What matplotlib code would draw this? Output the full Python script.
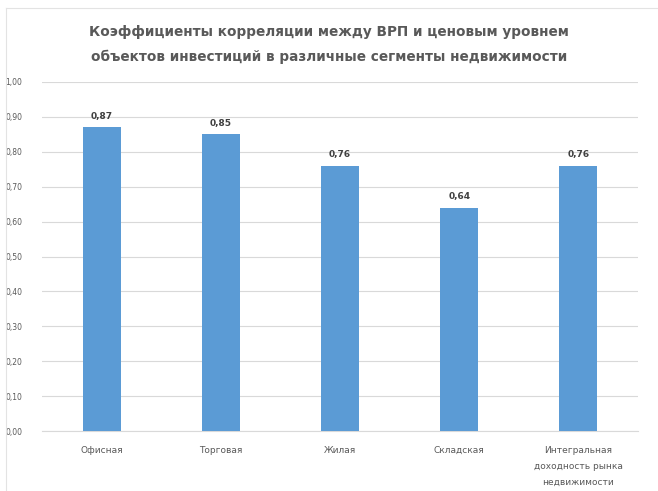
"""Correlation of GRP with price levels across real-estate segments."""

import matplotlib
matplotlib.use("Agg")
import matplotlib.pyplot as plt
from matplotlib.lines import Line2D

segments = [
    "Офисная",
    "Торговая",
    "Жилая",
    "Складская",
    "Интегральная\nдоходность рынка\nнедвижимости",
]
coefficients = [0.87, 0.85, 0.76, 0.64, 0.76]
y_ticks = [i / 10 for i in range(11)]

bar_colour = "#5B9BD5"
text_grey = "#595959"

fig = plt.figure(figsize=(6.58, 4.91), dpi=100)

# faint chart-area frame, only the left and top edges fall inside the image
frame_x = 6 / 658
frame_y = 1 - 8 / 491
fig.add_artist(Line2D([frame_x, frame_x], [0, frame_y], transform=fig.transFigure,
                      color="#E3E3E3", linewidth=0.8))
fig.add_artist(Line2D([frame_x, 1], [frame_y, frame_y], transform=fig.transFigure,
                      color="#E3E3E3", linewidth=0.8))

ax = fig.add_axes([42 / 658, 1 - 431 / 491, 596 / 658, 349 / 491])

x = range(len(segments))
ax.bar(x, coefficients, width=0.32, color=bar_colour, zorder=3)

for xi, val in zip(x, coefficients):
    ax.text(xi, val + 0.018, f"{val:.2f}".replace(".", ","), ha="center",
            va="bottom", fontsize=6.5, fontweight="bold", color="#404040")

ax.set_xlim(-0.5, len(segments) - 0.5)
ax.set_ylim(0, 1.0)
ax.set_yticks(y_ticks)
ax.set_yticklabels([f"{t:.2f}".replace(".", ",") for t in y_ticks],
                   fontsize=5.5, color=text_grey)
ax.set_xticks(list(x))
ax.set_xticklabels(segments, fontsize=6.5, color=text_grey, linespacing=2.0)
ax.tick_params(axis="both", length=0)
ax.tick_params(axis="x", pad=11)
ax.tick_params(axis="y", pad=14)

ax.grid(axis="y", color="#D9D9D9", linewidth=0.8, zorder=0)
for side in ("top", "right", "left"):
    ax.spines[side].set_visible(False)
ax.spines["bottom"].set_color("#D9D9D9")

fig.text(0.5, 1 - 32 / 491,
         "Коэффициенты корреляции между ВРП и ценовым уровнем",
         ha="center", va="center", fontsize=9.8, fontweight="bold",
         color=text_grey)
fig.text(0.5, 1 - 57 / 491,
         "объектов инвестиций в различные сегменты недвижимости",
         ha="center", va="center", fontsize=9.8, fontweight="bold",
         color=text_grey)

fig.savefig("out.png", dpi=100)
plt.close(fig)
